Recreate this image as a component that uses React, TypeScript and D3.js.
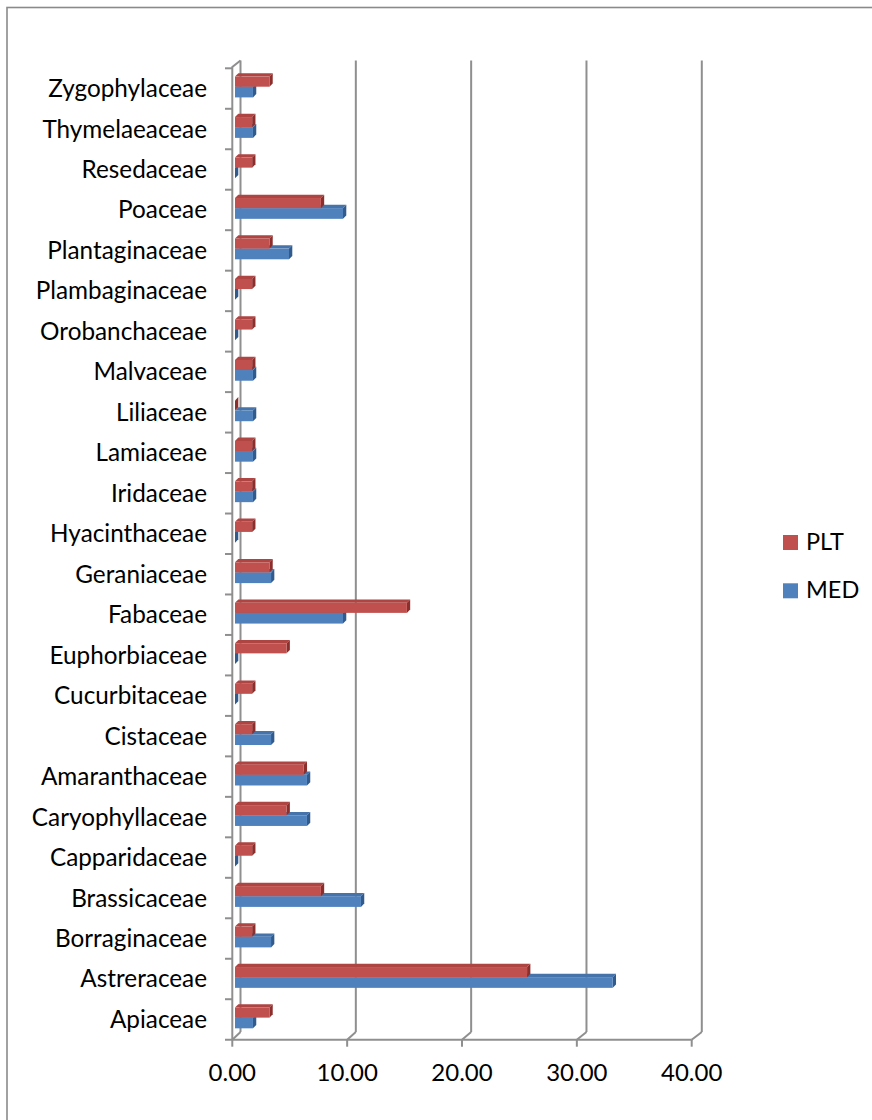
import { useEffect, useRef } from 'react';
import * as d3 from 'd3';

// categories listed bottom to top, as in the source sheet
const categories = [
  'Apiaceae', 'Astreraceae', 'Borraginaceae', 'Brassicaceae', 'Capparidaceae',
  'Caryophyllaceae', 'Amaranthaceae', 'Cistaceae', 'Cucurbitaceae', 'Euphorbiaceae',
  'Fabaceae', 'Geraniaceae', 'Hyacinthaceae', 'Iridaceae', 'Lamiaceae', 'Liliaceae',
  'Malvaceae', 'Orobanchaceae', 'Plambaginaceae', 'Plantaginaceae', 'Poaceae',
  'Resedaceae', 'Thymelaeaceae', 'Zygophylaceae',
];

const pltValues = [
  2.99, 25.37, 1.49, 7.46, 1.49, 4.48, 5.97, 1.49, 1.49, 4.48, 14.93, 2.99,
  1.49, 1.49, 1.49, 0, 1.49, 1.49, 1.49, 2.99, 7.46, 1.49, 1.49, 2.99,
];

const medValues = [
  1.56, 32.81, 3.13, 10.94, 0, 6.25, 6.25, 3.13, 0, 0, 9.38, 3.13,
  0, 1.56, 1.56, 1.56, 1.56, 0, 0, 4.69, 9.38, 0, 1.56, 1.56,
];

const xTicks = [0, 10, 20, 30, 40];
const seriesNames = ['PLT', 'MED'];

const colors: Record<string, { front: string; top: string; side: string }> = {
  PLT: { front: '#C0504D', top: '#AE4542', side: '#8C2F2C' },
  MED: { front: '#4F81BD', top: '#4573AA', side: '#315B8C' },
};

const FONT = 'Lato, "Open Sans", sans-serif';

export default function App() {
  const svgRef = useRef<SVGSVGElement>(null);

  useEffect(() => {
    if (!svgRef.current) return;
    document.body.style.margin = '0';

    const svg = d3.select(svgRef.current);
    svg.selectAll('*').remove();

    const gridColor = '#8f8f8f';
    const frontBottom = 1039.7;
    const backBottom = 1032;
    const backTop = 60.5;
    const frontTop = 67;
    const depth = 3.3;

    // outer chart border (runs off the right and bottom edges)
    svg.append('rect')
      .attr('x', 7)
      .attr('y', 7.5)
      .attr('width', 900)
      .attr('height', 1150)
      .attr('fill', '#fff')
      .attr('stroke', '#8a8a8a')
      .attr('stroke-width', 1.6);

    const y = d3.scaleBand<string>()
      .domain(categories.slice().reverse())
      .range([68.3, frontBottom]);

    const xFront = d3.scaleLinear().domain([0, 40]).range([232.3, 691.7]);
    const xBack = d3.scaleLinear().domain([0, 40]).range([240.5, 701.8]);
    const xBar = d3.scaleLinear().domain([0, 40]).range([235, 695.5]);

    const grid = svg.append('g')
      .attr('fill', 'none')
      .attr('stroke', gridColor)
      .attr('stroke-width', 2);

    // back wall gridlines + floor slants + bottom ticks
    xTicks.forEach(t => {
      grid.append('line')
        .attr('x1', xBack(t)).attr('x2', xBack(t))
        .attr('y1', backTop).attr('y2', backBottom);
      grid.append('line')
        .attr('x1', xFront(t)).attr('y1', frontBottom)
        .attr('x2', xBack(t)).attr('y2', backBottom);
      grid.append('line')
        .attr('x1', xFront(t)).attr('x2', xFront(t))
        .attr('y1', frontBottom).attr('y2', frontBottom + 7);
    });

    // floor front edge
    grid.append('line')
      .attr('x1', 225).attr('x2', xFront(40))
      .attr('y1', frontBottom).attr('y2', frontBottom);

    // left wall front edge and top
    grid.append('path')
      .attr('d', `M${xFront(0)},${frontBottom}V${frontTop}L${xBack(0)},${backTop}`);

    // left axis ticks at band boundaries
    const bounds = y.domain().map(c => y(c) as number);
    bounds.forEach(b => {
      grid.append('line')
        .attr('x1', 225).attr('x2', xFront(0))
        .attr('y1', b).attr('y2', b);
    });

    // 3D bars
    const drawBox = (x0: number, x1: number, y0: number, y1: number, c: { front: string; top: string; side: string }) => {
      const g = svg.append('g');
      g.append('polygon')
        .attr('points', [[x0, y0], [x1, y0], [x1 + depth, y0 - depth], [x0 + depth, y0 - depth]].join(' '))
        .attr('fill', c.top);
      g.append('polygon')
        .attr('points', [[x1, y0], [x1 + depth, y0 - depth], [x1 + depth, y1 - depth], [x1, y1]].join(' '))
        .attr('fill', c.side);
      g.append('rect')
        .attr('x', x0).attr('y', y0)
        .attr('width', Math.max(0, x1 - x0)).attr('height', y1 - y0)
        .attr('fill', c.front);
    };

    categories.forEach((cat, i) => {
      const t = y(cat) as number;
      drawBox(xBar(0), xBar(medValues[i]), t + 18.4, t + 29.1, colors.MED);
      drawBox(xBar(0), xBar(pltValues[i]), t + 8.3, t + 18.4, colors.PLT);
    });

    // category labels
    svg.append('g')
      .attr('font-family', FONT)
      .attr('font-size', 24.3)
      .attr('text-anchor', 'end')
      .attr('fill', '#000')
      .selectAll('text')
      .data(categories)
      .enter().append('text')
      .attr('x', 207)
      .attr('y', d => (y(d) as number) + y.bandwidth() / 2 + 8.5)
      .text(d => d);

    // value axis labels
    svg.append('g')
      .attr('font-family', FONT)
      .attr('font-size', 24)
      .attr('text-anchor', 'middle')
      .attr('fill', '#000')
      .selectAll('text')
      .data(xTicks)
      .enter().append('text')
      .attr('x', d => xFront(d))
      .attr('y', 1081)
      .text(d => d3.format('.2f')(d));

    // legend
    const legend = svg.append('g')
      .attr('font-family', FONT)
      .attr('font-size', 23.5)
      .selectAll('g')
      .data(seriesNames)
      .enter().append('g')
      .attr('transform', (d, i) => `translate(783,${535 + i * 48.3})`);

    legend.append('rect')
      .attr('width', 15)
      .attr('height', 15)
      .attr('fill', d => colors[d].front);

    legend.append('text')
      .attr('x', 23)
      .attr('y', 15)
      .text(d => d);
  }, []);

  return <svg ref={svgRef} width={872} height={1120} style={{ display: 'block' }} />;
}
